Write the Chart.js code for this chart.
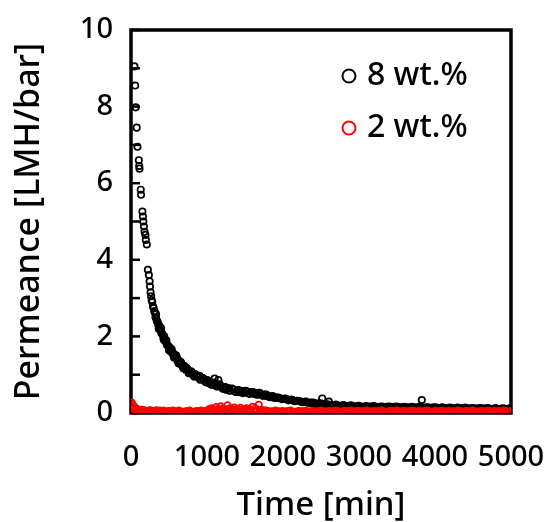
<!DOCTYPE html>
<html>
<head>
<meta charset="utf-8">
<script src="https://cdn.jsdelivr.net/npm/chart.js@4"></script>
<style>
html,body{margin:0;padding:0;background:#fff;}
#wrap{width:545px;height:522px;position:relative;}
</style>
</head>
<body>
<div id="wrap"><canvas id="c" width="545" height="522"></canvas></div>
<script>
// ---- data ----
const xTitle = 'Time [min]';
const yTitle = 'Permeance [LMH/bar]';
const seriesLabels = ['8 wt.%', '2 wt.%'];

// 8 wt.% (main readings)
const time8 = [45,55,62,75,85,103,108,112,128,132,150,157,162,170,178,190,195,208,222,235,245,250,258,265,272,280,290,298,306,315,322,330,340,350,360,372,380,392,400,412,425,437,448,460,472,485,497,510,525,540,555,570,585,600,612,630,645,660,680,700,720,744,765,790,815,840,875,900,925,950,975,1000,1025,1050,1075,1100,1110,1140,1150,1170,1200,1225,1250,1280,1310,1340,1370,1400,1430,1460,1490,1520,1550,1580,1610,1640,1670,1700,1730,1760,1790,1816,1850,1880,1920,1969,2010,2050,2090,2130,2180,2231,2280,2320,2370,2420,2470,2516,2520,2560,2603,2620,2670,2720,2770,2820,2870,2920,2970,3020,3070,3120,3170,3220,3270,3320,3370,3420,3470,3520,3570,3620,3670,3720,3770,3826,3820,3870,3920,3970,4020,4070,4120,4170,4220,4270,4320,4370,4420,4470,4520,4570,4620,4670,4720,4770,4820,4870,4920,4970,5000];
const perm8 = [9.05,8.55,7.98,7.45,6.95,6.6,6.45,6.38,5.83,5.7,5.26,5.13,5.0,4.87,4.73,4.65,4.52,4.4,3.74,3.6,3.44,3.3,3.15,3.05,2.95,2.9,2.78,2.74,2.66,2.62,2.5,2.49,2.4,2.38,2.3,2.28,2.18,2.16,2.08,2.07,1.98,2.0,1.88,1.86,1.78,1.77,1.68,1.71,1.6,1.6,1.52,1.53,1.44,1.46,1.36,1.37,1.28,1.3,1.21,1.23,1.13,1.14,1.06,1.09,1.0,1.02,0.94,0.97,0.88,0.9,0.83,0.86,0.78,0.81,0.74,0.9,0.76,0.7,0.86,0.72,0.66,0.68,0.61,0.65,0.58,0.62,0.56,0.59,0.54,0.57,0.53,0.56,0.51,0.55,0.5,0.53,0.48,0.51,0.46,0.48,0.44,0.43,0.43,0.4,0.41,0.38,0.37,0.36,0.34,0.33,0.32,0.3,0.29,0.28,0.27,0.25,0.25,0.38,0.23,0.22,0.3,0.21,0.2,0.2,0.19,0.19,0.18,0.18,0.17,0.17,0.17,0.17,0.17,0.16,0.16,0.16,0.16,0.16,0.16,0.15,0.15,0.15,0.15,0.15,0.15,0.34,0.14,0.14,0.14,0.14,0.14,0.13,0.13,0.13,0.13,0.13,0.13,0.12,0.12,0.12,0.12,0.12,0.12,0.12,0.11,0.11,0.11,0.11,0.11,0.11,0.11];
// 8 wt.% (interleaved readings)
const time8b = [330,365,395,430,465,500,535,565,595,625,655,690,730,760,800,830,870,910,945,985,1020,1060,1095,1130,1165,1210,1240,1290,1330,1380,1415,1470,1510,1560,1600,1650,1690,1740,1780,1830,1862,1900,1945,1990,2030,2070,2110,2155,2205,2255,2300,2345,2395,2445,2495,2540,2585,2645,2695,2745,2795,2845,2895,2945,2995,3045,3095,3145,3195,3245,3295,3345,3395,3445,3495,3545,3595,3645,3695,3745,3795,3845,3895,3945,3995,4045,4095,4145,4195,4245,4295,4345,4395,4445,4495,4545,4595,4645,4695,4745,4795,4845,4895,4945,4985];
const perm8b = [2.58,2.2,2.22,1.92,1.9,1.64,1.66,1.45,1.5,1.3,1.33,1.17,1.18,1.04,1.06,0.95,0.98,0.87,0.91,0.8,0.84,0.74,0.79,0.69,0.75,0.63,0.68,0.59,0.64,0.55,0.6,0.52,0.58,0.5,0.55,0.48,0.53,0.45,0.48,0.41,0.44,0.39,0.4,0.36,0.38,0.33,0.35,0.31,0.32,0.28,0.3,0.26,0.27,0.23,0.25,0.21,0.23,0.19,0.22,0.18,0.21,0.17,0.2,0.16,0.19,0.15,0.18,0.16,0.18,0.15,0.17,0.14,0.17,0.14,0.17,0.14,0.16,0.13,0.16,0.13,0.16,0.13,0.15,0.12,0.15,0.12,0.15,0.12,0.14,0.11,0.14,0.11,0.14,0.11,0.13,0.1,0.13,0.1,0.13,0.1,0.13,0.1,0.12,0.1,0.12];

// 2 wt.% (main readings)
const time2 = [10,20,30,40,50,60,75,90,105,120,140,160,180,200,230,260,290,320,350,380,410,450,490,530,570,610,650,700,750,800,850,900,950,1000,1030,1060,1090,1120,1150,1180,1210,1240,1270,1300,1330,1360,1400,1440,1480,1520,1560,1600,1640,1680,1720,1760,1800,1850,1900,1950,2000,2050,2100,2150,2200,2250,2300,2350,2400,2450,2500,2550,2600,2650,2700,2750,2800,2850,2900,2950,3000,3050,3100,3150,3200,3250,3300,3350,3400,3450,3500,3550,3600,3650,3700,3750,3800,3850,3900,3950,4000,4050,4100,4150,4200,4250,4300,4350,4400,4450,4500,4550,4600,4650,4700,4750,4800,4850,4900,4950,5000];
const perm2 = [0.27,0.22,0.18,0.12,0.15,0.08,0.1,0.06,0.09,0.05,0.08,0.04,0.07,0.05,0.03,0.06,0.04,0.05,0.03,0.06,0.04,0.03,0.05,0.03,0.04,0.02,0.04,0.03,0.05,0.03,0.04,0.03,0.05,0.06,0.1,0.12,0.08,0.15,0.1,0.17,0.12,0.08,0.2,0.12,0.09,0.14,0.1,0.13,0.08,0.12,0.1,0.16,0.12,0.21,0.08,0.06,0.05,0.04,0.06,0.03,0.05,0.04,0.06,0.03,0.05,0.04,0.06,0.03,0.05,0.04,0.06,0.03,0.05,0.04,0.06,0.03,0.05,0.04,0.06,0.03,0.05,0.04,0.06,0.03,0.05,0.04,0.06,0.03,0.05,0.04,0.06,0.03,0.05,0.04,0.06,0.03,0.05,0.04,0.06,0.03,0.05,0.04,0.06,0.03,0.05,0.04,0.06,0.03,0.05,0.04,0.06,0.03,0.05,0.04,0.06,0.03,0.05,0.04,0.06,0.03,0.05,0.04];
// 2 wt.% (interleaved readings)
const time2b = [215,245,275,305,335,365,395,430,470,510,550,590,630,675,725,775,825,875,925,975,1015,1045,1075,1105,1135,1165,1195,1225,1255,1285,1315,1345,1380,1420,1460,1500,1540,1580,1620,1660,1700,1740,1780,1825,1875,1925,1975,2025,2075,2125,2175,2225,2275,2325,2375,2425,2475,2525,2575,2625,2675,2725,2775,2825,2875,2925,2975,3025,3075,3125,3175,3225,3275,3325,3375,3425,3475,3525,3575,3625,3675,3725,3775,3825,3875,3925,3975,4025,4075,4125,4175,4225,4275,4325,4375,4425,4475,4525,4575,4625,4675,4725,4775,4825,4875,4925,4975];
const perm2b = [0.04,0.07,0.03,0.05,0.07,0.02,0.05,0.06,0.02,0.05,0.06,0.03,0.06,0.02,0.04,0.06,0.02,0.05,0.06,0.03,0.05,0.07,0.04,0.09,0.05,0.08,0.05,0.1,0.06,0.08,0.05,0.09,0.06,0.08,0.05,0.09,0.06,0.07,0.05,0.08,0.05,0.04,0.06,0.03,0.02,0.05,0.04,0.02,0.05,0.03,0.02,0.05,0.03,0.02,0.05,0.03,0.02,0.05,0.03,0.02,0.05,0.03,0.02,0.05,0.03,0.02,0.05,0.03,0.02,0.05,0.03,0.02,0.05,0.03,0.02,0.05,0.03,0.02,0.05,0.03,0.02,0.05,0.03,0.02,0.05,0.03,0.02,0.05,0.03,0.02,0.05,0.03,0.02,0.05,0.03,0.02,0.05,0.03,0.02,0.05,0.03,0.02,0.05,0.03,0.02,0.05,0.03];

const xTicks = [0,1000,2000,3000,4000,5000];
const yTicks = [0,2,4,6,8,10];

const pts = (xs, ys) => xs.map((x, i) => ({x: x, y: ys[i]}));
const FONT = '"Noto Sans", "DejaVu Sans", sans-serif';
const WEIGHT = 500;
const zeroPad = s => { s.paddingLeft = 0; s.paddingRight = 0; s.paddingTop = 0; s.paddingBottom = 0; };

const framePlugin = {
  id: 'frame',
  beforeDatasetsDraw(chart) {
    const {ctx, chartArea: a, scales} = chart;
    ctx.save();
    ctx.strokeStyle = '#000';
    ctx.lineWidth = 3.5;
    ctx.strokeRect(a.left, a.top, a.right - a.left, a.bottom - a.top);
    ctx.lineWidth = 2.5;
    const ys = scales.y;
    for (let v = ys.min; v <= ys.max; v += 1) {
      const py = ys.getPixelForValue(v);
      ctx.beginPath();
      ctx.moveTo(a.left, py);
      ctx.lineTo(a.left + 9, py);
      ctx.stroke();
    }
    ctx.restore();
  },
  afterDatasetsDraw(chart) {
    const {ctx, chartArea: a} = chart;
    ctx.save();
    ctx.font = WEIGHT + ' 32px ' + FONT;
    ctx.textBaseline = 'alphabetic';
    ctx.textAlign = 'left';
    const rows = [chart.data.datasets[1], chart.data.datasets[0]];
    rows.forEach((ds, i) => {
      const base = a.top + 55 + i * 52;
      ctx.beginPath();
      ctx.strokeStyle = ds.borderColor;
      ctx.lineWidth = 2;
      ctx.arc(a.left + 218, base - 9, 6.5, 0, Math.PI * 2);
      ctx.stroke();
      ctx.fillStyle = '#000';
      ctx.fillText(ds.label, a.left + 236, base);
    });
    ctx.restore();
  }
};

new Chart(document.getElementById('c'), {
  type: 'scatter',
  data: {
    datasets: [
      {label: seriesLabels[1], data: pts(time2, perm2).concat(pts(time2b, perm2b)), borderColor: '#ff0000', backgroundColor: 'rgba(0,0,0,0)', pointRadius: 3.3, pointBorderWidth: 1.7, order: 0},
      {label: seriesLabels[0], data: pts(time8, perm8).concat(pts(time8b, perm8b)), borderColor: '#000000', backgroundColor: 'rgba(0,0,0,0)', pointRadius: 3.2, pointBorderWidth: 1.7, order: 1}
    ]
  },
  options: {
    responsive: false,
    animation: false,
    layout: {padding: {top: 30, right: 34, left: 0, bottom: 0}},
    plugins: {legend: {display: false}, tooltip: {enabled: false}},
    scales: {
      x: {
        type: 'linear', min: 0, max: 5000,
        afterBuildTicks: s => { s.ticks = xTicks.map(v => ({value: v})); },
        ticks: {font: {family: FONT, size: 29, weight: WEIGHT}, color: '#000', padding: 27, maxRotation: 0, autoSkip: false, callback: v => String(v)},
        grid: {display: false, drawTicks: false},
        border: {display: false},
        title: {display: true, text: xTitle, font: {family: FONT, size: 33, weight: WEIGHT, lineHeight: 1}, color: '#000', padding: 0},
        afterFit: s => { s.height = 109; zeroPad(s); }
      },
      y: {
        type: 'linear', min: 0, max: 10,
        afterBuildTicks: s => { s.ticks = yTicks.map(v => ({value: v})); },
        ticks: {font: {family: FONT, size: 29, weight: WEIGHT}, color: '#000', padding: 18, callback: v => String(v)},
        grid: {display: false, drawTicks: false},
        border: {display: false},
        title: {display: true, text: yTitle, font: {family: FONT, size: 34, weight: WEIGHT, lineHeight: 1}, color: '#000', padding: {top: 12, bottom: 0}},
        afterFit: s => { s.width = 131; zeroPad(s); }
      }
    }
  },
  plugins: [framePlugin]
});
</script>
</body>
</html>
